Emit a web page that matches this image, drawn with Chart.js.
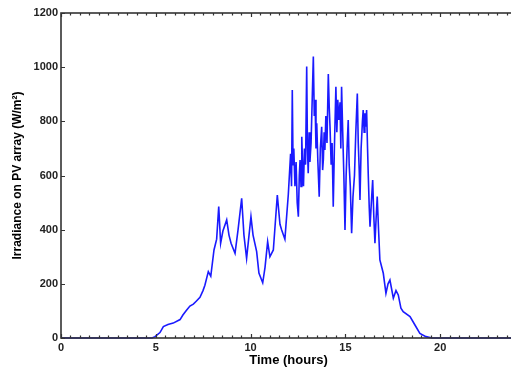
<!DOCTYPE html>
<html>
<head>
<meta charset="utf-8">
<script src="https://cdn.jsdelivr.net/npm/chart.js@4"></script>
<style>
  html,body{margin:0;padding:0;background:#fff;overflow:hidden;}
  #wrap{width:520px;height:368px;}
</style>
</head>
<body>
<div id="wrap"><canvas id="grafIrr" width="520" height="368"></canvas></div>
<script>
// tempo (horas) e irradiancia
const hours = [0,4.8,4.96,5.22,5.40,5.64,5.92,6.28,6.43,6.63,6.80,6.98,7.12,7.33,7.49,7.59,7.77,7.90,8.07,8.21,8.32,8.42,8.54,8.74,8.86,8.97,9.18,9.34,9.53,9.65,9.79,10.02,10.13,10.32,10.44,10.64,10.76,10.90,11.02,11.20,11.41,11.55,11.64,11.81,11.99,
  12.11,12.16,12.20,12.24,12.28,12.34,12.40,12.46,12.52,12.57,12.61,12.66,12.70,12.75,12.79,12.84,12.90,12.96,13.00,13.04,13.09,13.13,13.19,13.25,13.31,13.36,13.40,13.45,13.49,13.55,13.62,13.68,13.75,13.80,13.84,13.88,13.92,13.97,14.03,14.10,14.15,14.19,14.25,14.30,14.36,14.42,14.50,14.55,14.60,14.65,14.72,14.76,14.80,14.86,14.92,14.98,15.04,15.10,15.15,15.20,15.26,15.33,15.40,15.48,15.55,15.63,15.68,15.73,15.77,15.83,15.90,15.94,15.99,16.03,16.08,16.12,16.17,16.21,16.26,16.30,16.37,16.44,16.50,16.56,16.62,16.68,16.75,16.82,
  17.00,17.14,17.25,17.35,17.53,17.67,17.79,17.93,18.05,18.41,18.67,18.93,19.25,19.57,24];
const irradiance = [0,0,5,20,42,50,55,68,85,103,118,125,135,150,175,195,245,228,325,365,485,350,395,436,380,350,313,400,516,380,294,448,380,319,240,204,260,356,300,325,528,420,399,365,530,
  680,560,916,640,700,560,650,500,448,600,657,560,743,620,560,700,640,1002,700,608,760,650,720,880,1039,820,880,700,793,650,522,700,780,620,660,760,694,820,720,975,850,780,640,720,485,700,928,760,880,805,870,700,928,760,600,399,600,720,805,640,560,387,520,600,760,903,720,620,510,700,800,842,760,830,780,842,700,596,480,411,500,583,450,350,440,522,400,288,
  239,165,200,214,147,175,159,110,97,79,48,17,5,0,0];
const xTicks = [0,5,10,15,20];
const yTicks = [0,200,400,600,800,1000,1200];

const pontos = hours.map((h,i)=>({x:h,y:irradiance[i]}));

// marcas internas nos quatro lados (estilo matlab)
const marcasInternas = {
  id:'marcasInternas',
  afterDraw(chart){
    let ctx = chart.ctx, a = chart.chartArea, sx = chart.scales.x, sy = chart.scales.y;
    ctx.save();
    ctx.strokeStyle = '#333';
    ctx.lineWidth = 1.2;
    ctx.beginPath();
    for(let h=0;h<=24;h+=0.5){
      let px = Math.round(sx.getPixelForValue(h))+0.5;
      let len = (h%5===0)?4:2.5;
      ctx.moveTo(px,a.bottom); ctx.lineTo(px,a.bottom-len);
      ctx.moveTo(px,a.top); ctx.lineTo(px,a.top+len);
    }
    yTicks.forEach(v=>{
      let py = Math.round(sy.getPixelForValue(v))+0.5;
      ctx.moveTo(a.left,py); ctx.lineTo(a.left+4,py);
      ctx.moveTo(a.right,py); ctx.lineTo(a.right-4,py);
    });
    ctx.stroke();
    ctx.lineWidth = 1.6;
    ctx.strokeRect(a.left,a.top,a.right-a.left,a.bottom-a.top);
    ctx.restore();
  }
};

new Chart(document.getElementById('grafIrr').getContext('2d'),{
  type:'line',
  data:{datasets:[{
    data:pontos,
    borderColor:'#1a1aff',
    borderWidth:1.6,
    pointRadius:0,
    tension:0,
    clip:3
  }]},
  options:{
    responsive:false,
    animation:false,
    layout:{padding:{top:13,right:4,left:10,bottom:0}},
    plugins:{legend:{display:false},tooltip:{enabled:false}},
    scales:{
      x:{
        type:'linear',min:0,max:24,
        afterFit:s=>{s.height=30;},
        afterBuildTicks:s=>{s.ticks=xTicks.map(v=>({value:v}));},
        grid:{display:false,drawTicks:false,tickLength:0},
        border:{display:false},
        ticks:{color:'#222',font:{family:'Liberation Sans',size:11,weight:'bold'},padding:3,maxRotation:0,callback:v=>String(v)},
        title:{display:true,text:'Time (hours)',color:'#000',font:{family:'Liberation Sans',size:13,weight:'bold'},padding:{top:3,bottom:0}}
      },
      y:{
        min:0,max:1200,
        afterFit:s=>{s.width=51;},
        afterBuildTicks:s=>{s.ticks=yTicks.map(v=>({value:v}));},
        grid:{display:false,drawTicks:false,tickLength:0},
        border:{display:false},
        ticks:{color:'#222',font:{family:'Liberation Sans',size:11,weight:'bold'},padding:3,callback:v=>String(v)},
        title:{display:true,text:'Irradiance on PV array (W/m\u00B2)',color:'#000',font:{family:'Liberation Sans',size:12,weight:'bold'},padding:{top:0,bottom:0}}
      }
    }
  },
  plugins:[marcasInternas]
});
</script>
</body>
</html>
